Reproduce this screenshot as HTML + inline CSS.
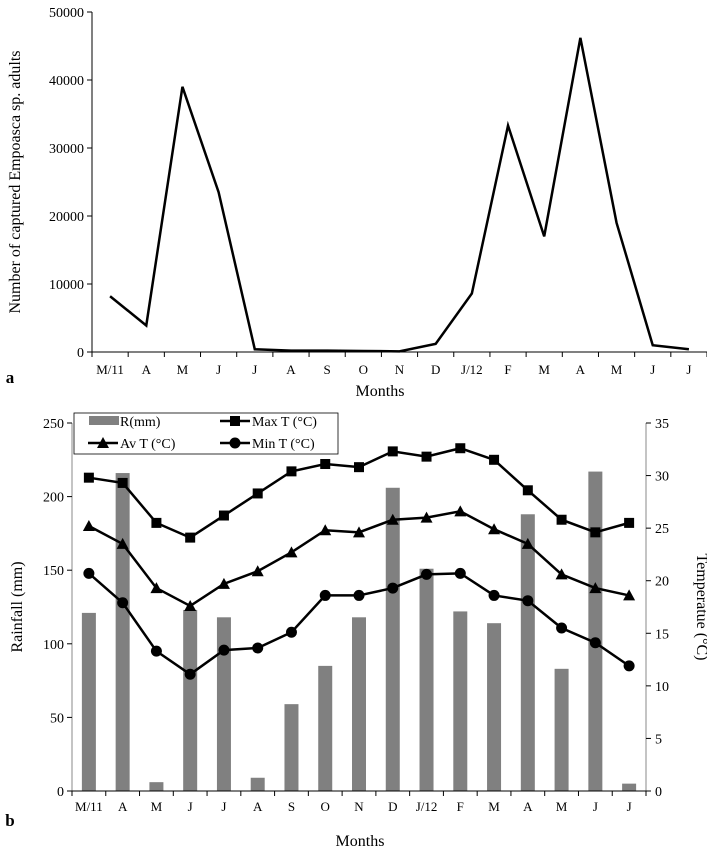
<!DOCTYPE html>
<html><head><meta charset="utf-8"><style>
body{margin:0;background:#fff;}
svg text{font-family:"Liberation Serif",serif;fill:#000;}
</style></head><body>
<svg id="chart" width="707" height="854" viewBox="0 0 707 854" xmlns="http://www.w3.org/2000/svg"></svg>
<script>
const monthsA = ["M/11","A","M","J","J","A","S","O","N","D","J/12","F","M","A","M","J","J"];
const adults = [8200,3900,39000,23500,400,200,200,150,100,1200,8600,33300,17000,46200,19000,1000,400];
const ticksA = [0,10000,20000,30000,40000,50000];
const monthsB = ["M/11","A","M","J","J","A","S","O","N","D","J/12","F","M","A","M","J","J"];
const rainfall = [121,216,6,123,118,9,59,85,118,206,151,122,114,188,83,217,5];
const maxT = [29.8,29.3,25.5,24.1,26.2,28.3,30.4,31.1,30.8,32.3,31.8,32.6,31.5,28.6,25.8,24.6,25.5];
const avT = [25.2,23.5,19.3,17.6,19.7,20.9,22.7,24.8,24.6,25.8,26.0,26.6,24.9,23.5,20.6,19.3,18.6];
const minT = [20.7,17.9,13.3,11.1,13.4,13.6,15.1,18.6,18.6,19.3,20.6,20.7,18.6,18.1,15.5,14.1,11.9];
const ticksRain = [0,50,100,150,200,250];
const ticksTemp = [0,5,10,15,20,25,30,35];

const svg = document.getElementById('chart');
const NS = "http://www.w3.org/2000/svg";
function mk(tag, attrs, parent){const e=document.createElementNS(NS,tag);for(const k in attrs)e.setAttribute(k,attrs[k]);(parent||svg).appendChild(e);return e;}
function txt(s,x,y,size,anchor,parent){const t=mk('text',{x:x,y:y,'font-size':size,'text-anchor':anchor||'middle'},parent);t.textContent=s;return t;}

// ---- Chart a ----
const gA = mk('g',{});


const aL=92,aR=707,aT=12,aB=352;
const aStep=(aR-aL)/monthsA.length;
const axA=i=>aL+aStep*(i+0.5);
const ayA=v=>aB-(v/50000)*(aB-aT);
mk('line',{x1:aL,y1:aT,x2:aL,y2:aB,stroke:'#000','stroke-width':1},gA);
mk('line',{x1:aL,y1:aB,x2:aR,y2:aB,stroke:'#000','stroke-width':1},gA);
ticksA.forEach(v=>{mk('line',{x1:aL-5,y1:ayA(v),x2:aL,y2:ayA(v),stroke:'#000'},gA);const t=txt(String(v),aL-8,ayA(v)+5,14,'end',gA);});
for(let i=0;i<=monthsA.length;i++)mk('line',{x1:aL+aStep*i,y1:aB,x2:aL+aStep*i,y2:aB+5,stroke:'#000'},gA);
monthsA.forEach((m,i)=>{const t=txt(m,axA(i),aB+22,13,'middle',gA);});
const lineA=mk('polyline',{points:adults.map((v,i)=>axA(i)+','+ayA(v)).join(' '),fill:'none',stroke:'#000','stroke-width':2.5},gA);


let t1=txt('Number of  captured Empoasca sp. adults',0,0,16,'middle',gA);t1.setAttribute('transform','translate(20,182) rotate(-90)');

let t2=txt('Months',380,396,16,'middle',gA);
let t3=txt('a',10,383,17,'middle',gA);t3.setAttribute('font-weight','bold');

// ---- Chart b ----
const gB = mk('g',{});


const bL=72,bR=646,bT=423,bB=791;
const bStep=(bR-bL)/monthsB.length;
const bx=i=>bL+bStep*(i+0.5);
const byR=v=>bB-(v/250)*(bB-bT);
const byT=v=>bB-(v/35)*(bB-bT);
rainfall.forEach((v,i)=>{const r=mk('rect',{x:bx(i)-7,y:byR(v),width:14,height:bB-byR(v),fill:'#808080'},gB);});
mk('line',{x1:bL,y1:bT,x2:bL,y2:bB,stroke:'#888'},gB);
mk('line',{x1:bR,y1:bT,x2:bR,y2:bB,stroke:'#888'},gB);
mk('line',{x1:bL,y1:bB,x2:bR,y2:bB,stroke:'#000'},gB);
ticksRain.forEach(v=>{mk('line',{x1:bL-5,y1:byR(v),x2:bL,y2:byR(v),stroke:'#000'},gB);const t=txt(String(v),bL-8,byR(v)+5,14,'end',gB);});
ticksTemp.forEach(v=>{mk('line',{x1:bR,y1:byT(v),x2:bR+5,y2:byT(v),stroke:'#000'},gB);const t=txt(String(v),bR+9,byT(v)+5,14,'start',gB);});
for(let i=0;i<=monthsB.length;i++)mk('line',{x1:bL+bStep*i,y1:bB,x2:bL+bStep*i,y2:bB+5,stroke:'#000'},gB);
monthsB.forEach((m,i)=>{const t=txt(m,bx(i),bB+20,13,'middle',gB);});
function marker(type,x,y,g){
  if(type==='sq')return mk('rect',{x:x-5,y:y-5,width:10,height:10,fill:'#000'},g);
  if(type==='tri')return mk('polygon',{points:`${x},${y-6} ${x-6},${y+5} ${x+6},${y+5}`,fill:'#000'},g);
  return mk('circle',{cx:x,cy:y,r:5.5,fill:'#000'},g);
}
[[maxT,'sq','max-temp-line'],[avT,'tri','avg-temp-line'],[minT,'ci','min-temp-line']].forEach(([arr,m,name])=>{
  const pl=mk('polyline',{points:arr.map((v,i)=>bx(i)+','+byT(v)).join(' '),fill:'none',stroke:'#000','stroke-width':2.5},gB);
  
  
  arr.forEach((v,i)=>{const mm=marker(m,bx(i),byT(v),gB);});
});
// legend
const lg=mk('g',{},gB);


const ly=413;
mk('rect',{x:74,y:ly,width:264,height:41,fill:'#fff',stroke:'#000','stroke-width':0.8},lg);
mk('rect',{x:89,y:ly+3,width:30,height:9,fill:'#808080'},lg);txt('R(mm)',120,ly+13,14,'start',lg);
mk('line',{x1:220,y1:ly+8,x2:250,y2:ly+8,stroke:'#000','stroke-width':2.5},lg);marker('sq',235,ly+8,lg);txt('Max T (°C)',252,ly+13,14,'start',lg);
mk('line',{x1:88,y1:ly+30,x2:118,y2:ly+30,stroke:'#000','stroke-width':2.5},lg);marker('tri',103,ly+30,lg);txt('Av T (°C)',120,ly+35,14,'start',lg);
mk('line',{x1:220,y1:ly+30,x2:250,y2:ly+30,stroke:'#000','stroke-width':2.5},lg);marker('ci',235,ly+30,lg);txt('Min T (°C)',252,ly+35,14,'start',lg);
let u1=txt('Rainfall  (mm)',0,0,16,'middle',gB);u1.setAttribute('transform','translate(22,607) rotate(-90)');
let u2=txt('Temperatue (°C)',0,0,16,'middle',gB);u2.setAttribute('transform','translate(697,607) rotate(90)');
let u3=txt('Months',360,846,16,'middle',gB);
let u4=txt('b',10,826,17,'middle',gB);u4.setAttribute('font-weight','bold');
</script>
</body></html>
